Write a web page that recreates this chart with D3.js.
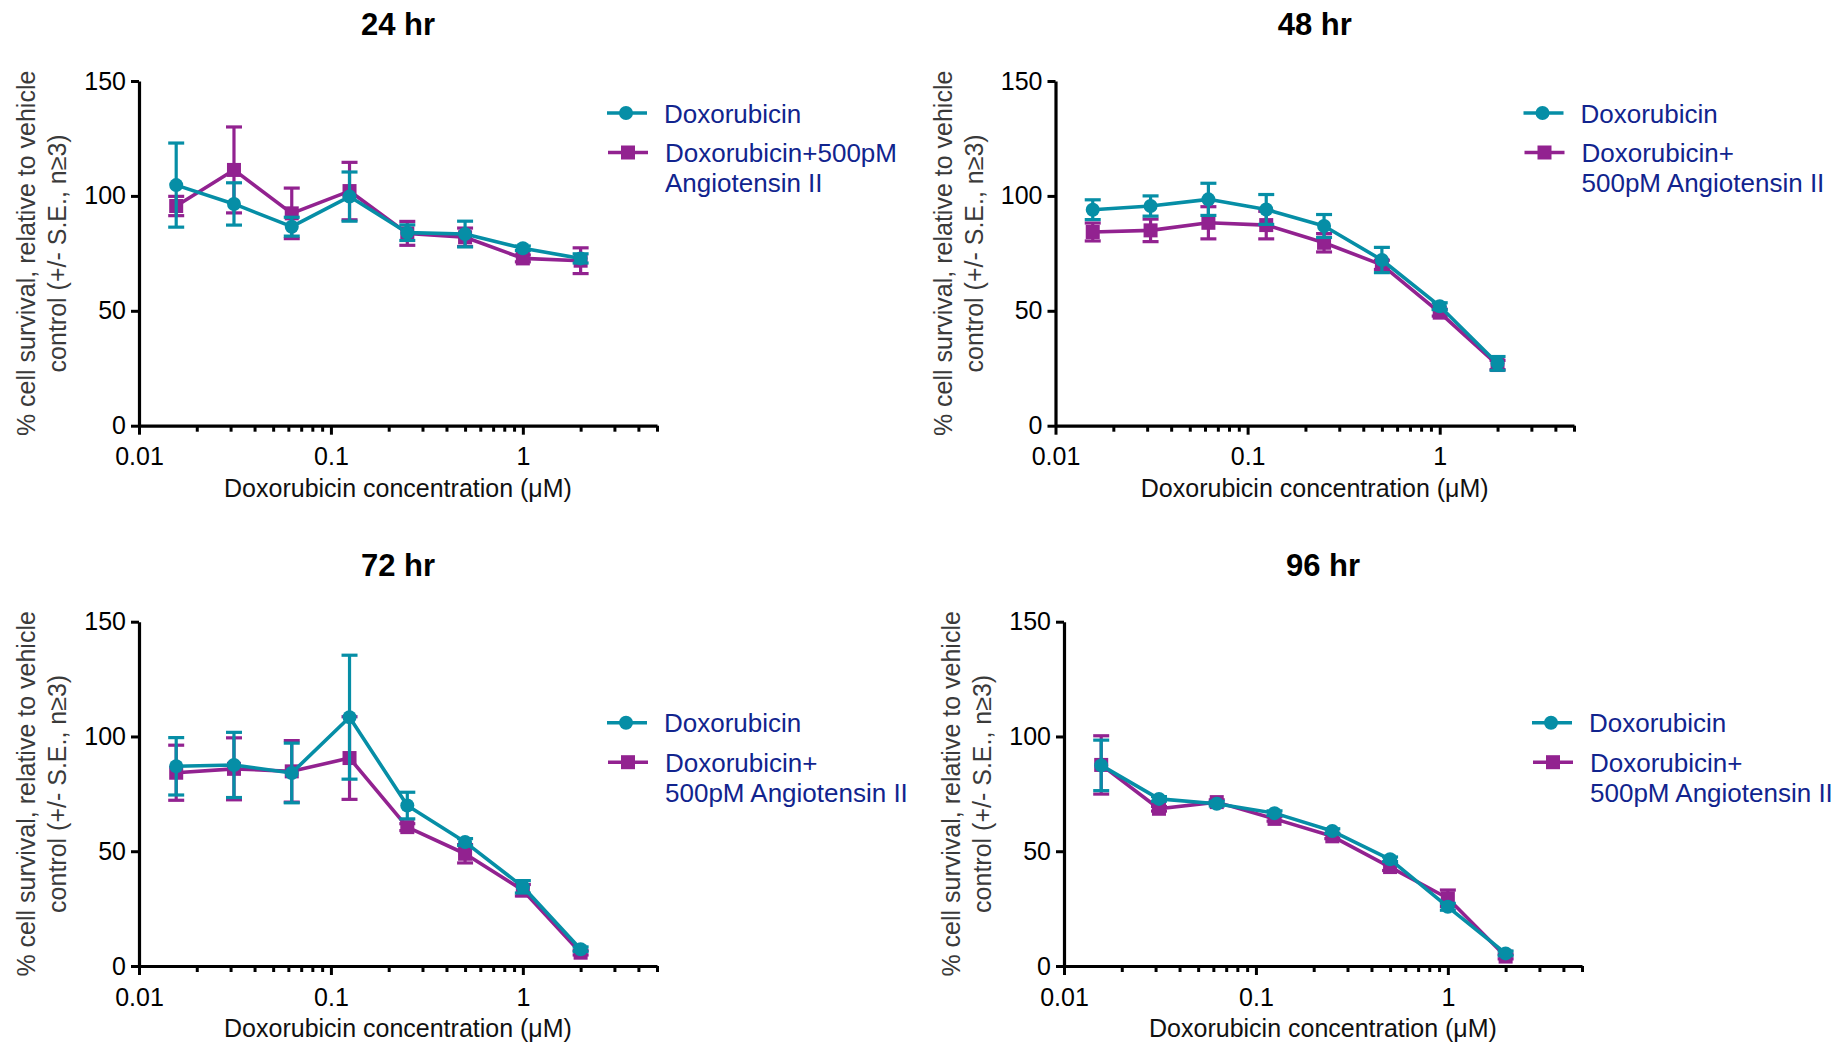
<!DOCTYPE html>
<html>
<head>
<meta charset="utf-8">
<script src="https://cdn.jsdelivr.net/npm/d3@7"></script>
<style>
  body { margin: 0; background: #fff; }
  svg { display: block; }
  text { font-family: "Liberation Sans", Arial, Helvetica, sans-serif; }
</style>
</head>
<body>
<svg id="chart" width="1834" height="1047"></svg>
<script>
// Doxorubicin doses (µM), two-fold dilution series
const doses = [0.015625, 0.03125, 0.0625, 0.125, 0.25, 0.5, 1, 2];
const timepoints = ["24 hr", "48 hr", "72 hr", "96 hr"];

// % cell survival relative to vehicle control (mean and S.E.), doxorubicin alone
const dox24   = [104.7, 96.5, 86.6, 99.7, 84.0, 83.4, 77.2, 72.8];
const dox24SE = [18.3, 9.2, 4.1, 10.7, 3.4, 5.6, 1.0, 2.0];
const dox48   = [94.0, 95.6, 98.5, 94.1, 86.9, 72.1, 52.0, 27.1];
const dox48SE = [4.3, 4.4, 7.0, 6.5, 5.0, 5.5, 1.5, 3.0];
const dox72   = [87.0, 87.6, 84.1, 108.4, 69.9, 54.0, 34.5, 7.3];
const dox72SE = [12.5, 14.2, 13.0, 27.0, 5.8, 1.5, 2.7, 1.0];
const dox96   = [87.4, 72.8, 70.7, 66.6, 58.8, 46.5, 25.8, 5.5];
const dox96SE = [11.0, 1.0, 1.0, 1.0, 1.0, 1.0, 1.5, 1.0];

// doxorubicin + 500 pM angiotensin II
const doxAng24   = [95.6, 111.3, 92.4, 102.1, 83.7, 82.0, 72.8, 71.8];
const doxAng24SE = [4.2, 18.7, 11.0, 12.5, 5.2, 4.0, 1.5, 5.6];
const doxAng48   = [84.3, 85.0, 88.3, 87.3, 79.6, 70.0, 49.2, 26.4];
const doxAng48SE = [3.9, 4.9, 7.0, 6.0, 4.0, 2.0, 1.5, 2.0];
const doxAng72   = [84.2, 85.9, 84.8, 90.6, 60.5, 48.9, 33.0, 5.8];
const doxAng72SE = [12.0, 13.5, 13.4, 18.0, 1.5, 4.0, 2.5, 1.0];
const doxAng96   = [87.6, 68.5, 71.4, 64.1, 56.5, 43.1, 29.5, 4.1];
const doxAng96SE = [12.7, 1.0, 1.0, 1.0, 1.0, 1.5, 3.6, 1.0];

// axis ticks and labels
const yTickValues = [0, 50, 100, 150];
const xTickValues = [0.01, 0.1, 1];
const xTickLabels = ["0.01", "0.1", "1"];
const xDomain = [0.01, 5];
const yDomain = [0, 150];
const xTitle = "Doxorubicin concentration (\u03bcM)";
const yTitleLines = ["% cell survival, relative to vehicle", "control (+/- S.E., n\u22653)"];

// legend text, wrapped as it appears in each panel
const legendDox = ["Doxorubicin"];
const legendDoxAngA = ["Doxorubicin+500pM", "Angiotensin II"];
const legendDoxAngB = ["Doxorubicin+", "500pM Angiotensin II"];

const TEAL = "#068ea6";
const PURPLE = "#922290";
const LEGEND_TEXT = "#11248e";

// panel frames: y-axis position, x-axis end, top (150) and bottom (0) of y range, legend row offset
const panels = [
  { title: timepoints[0], x0: 139,  x1: 657,  yTop: 81,    yBot: 425.7, legendDy: 32,
    dox: dox24, doxSE: dox24SE, ang: doxAng24, angSE: doxAng24SE, angLegend: legendDoxAngA },
  { title: timepoints[1], x0: 1055.5, x1: 1574, yTop: 81,  yBot: 425.7, legendDy: 32,
    dox: dox48, doxSE: dox48SE, ang: doxAng48, angSE: doxAng48SE, angLegend: legendDoxAngB },
  { title: timepoints[2], x0: 139,  x1: 657,  yTop: 621.7, yBot: 966,   legendDy: 101,
    dox: dox72, doxSE: dox72SE, ang: doxAng72, angSE: doxAng72SE, angLegend: legendDoxAngB },
  { title: timepoints[3], x0: 1064, x1: 1582, yTop: 621.7, yBot: 966,   legendDy: 101,
    dox: dox96, doxSE: dox96SE, ang: doxAng96, angSE: doxAng96SE, angLegend: legendDoxAngB }
];

const svg = d3.select("#chart");

function drawSeries(g, x, y, means, ses, color, marker) {
  const pts = doses.map((d, i) => ({ d, m: means[i], se: ses[i] }));
  // connecting line
  g.append("path")
    .datum(pts)
    .attr("fill", "none")
    .attr("stroke", color)
    .attr("stroke-width", 3.6)
    .attr("stroke-linejoin", "round")
    .attr("d", d3.line().x(p => x(p.d)).y(p => y(p.m)));
  // error bars (mean +/- S.E.)
  const eb = g.append("g").attr("stroke", color).attr("stroke-width", 3.2);
  pts.forEach(p => {
    const cx = x(p.d);
    eb.append("line").attr("x1", cx).attr("x2", cx).attr("y1", y(p.m + p.se)).attr("y2", y(p.m - p.se));
    [p.m + p.se, p.m - p.se].forEach(v => {
      eb.append("line").attr("x1", cx - 8).attr("x2", cx + 8).attr("y1", y(v)).attr("y2", y(v));
    });
  });
  // markers
  const mk = g.append("g").attr("fill", color);
  pts.forEach(p => {
    if (marker === "circle") {
      mk.append("circle").attr("cx", x(p.d)).attr("cy", y(p.m)).attr("r", 7);
    } else {
      mk.append("rect").attr("x", x(p.d) - 7).attr("y", y(p.m) - 7).attr("width", 14).attr("height", 14);
    }
  });
}

function legendEntry(g, lx, ly, color, marker, lines) {
  g.append("line").attr("x1", lx).attr("x2", lx + 40).attr("y1", ly).attr("y2", ly)
    .attr("stroke", color).attr("stroke-width", 3.6);
  if (marker === "circle") {
    g.append("circle").attr("cx", lx + 19).attr("cy", ly).attr("r", 7).attr("fill", color);
  } else {
    g.append("rect").attr("x", lx + 20 - 7).attr("y", ly - 7).attr("width", 14).attr("height", 14).attr("fill", color);
  }
  const t = g.append("text").attr("x", lx + 57).attr("y", ly + 9.5)
    .attr("font-size", 26).attr("fill", LEGEND_TEXT);
  lines.forEach((s, i) => {
    t.append("tspan").attr("x", lx + 57).attr("dy", i === 0 ? 0 : 30).text(s);
  });
}

panels.forEach(p => {
  const x = d3.scaleLog().domain(xDomain).range([p.x0, p.x1]);
  const y = d3.scaleLinear().domain(yDomain).range([p.yBot, p.yTop]);
  const g = svg.append("g");

  // panel title
  g.append("text")
    .attr("x", (p.x0 + p.x1) / 2).attr("y", p.yTop - 46)
    .attr("text-anchor", "middle").attr("font-size", 31).attr("font-weight", "bold")
    .attr("fill", "#000").text(p.title);

  // minor log ticks
  const minor = x.ticks().filter(v => !xTickValues.some(m => Math.abs(m - v) < 1e-9));
  const minorAxis = g.append("g").attr("transform", `translate(0,${p.yBot})`)
    .call(d3.axisBottom(x).tickValues(minor).tickSize(6).tickSizeOuter(0).tickFormat(""));
  minorAxis.select(".domain").remove();
  minorAxis.selectAll(".tick line").attr("stroke", "#000").attr("stroke-width", 3);

  // major x axis
  const xAxis = g.append("g").attr("transform", `translate(0,${p.yBot})`)
    .call(d3.axisBottom(x).tickValues(xTickValues).tickSize(9).tickSizeOuter(0).tickPadding(13)
      .tickFormat((d, i) => xTickLabels[i]));
  xAxis.select(".domain").attr("stroke", "#000").attr("stroke-width", 3.2);
  xAxis.selectAll(".tick line").attr("stroke", "#000").attr("stroke-width", 3);
  xAxis.selectAll(".tick text").attr("font-size", 25).attr("fill", "#000")
    .attr("font-family", "'Liberation Sans', Arial, sans-serif");

  // y axis
  const yAxis = g.append("g").attr("transform", `translate(${p.x0},0)`)
    .call(d3.axisLeft(y).tickValues(yTickValues).tickSize(8).tickSizeOuter(0).tickPadding(5));
  yAxis.select(".domain").attr("stroke", "#000").attr("stroke-width", 3.2);
  yAxis.selectAll(".tick line").attr("stroke", "#000").attr("stroke-width", 3);
  yAxis.selectAll(".tick text").attr("font-size", 25).attr("fill", "#000")
    .attr("font-family", "'Liberation Sans', Arial, sans-serif");

  // axis titles
  g.append("text")
    .attr("x", (p.x0 + p.x1) / 2).attr("y", p.yBot + 71)
    .attr("text-anchor", "middle").attr("font-size", 25).attr("fill", "#111")
    .text(xTitle);
  const yMid = (p.yTop + p.yBot) / 2;
  yTitleLines.forEach((s, i) => {
    const bx = p.x0 - 104 + i * 31;
    g.append("text")
      .attr("transform", `translate(${bx},${yMid}) rotate(-90)`)
      .attr("text-anchor", "middle").attr("font-size", 25).attr("fill", "#3a3a3a")
      .text(s);
  });

  // data: combination first, doxorubicin alone drawn on top
  drawSeries(g, x, y, p.ang, p.angSE, PURPLE, "square");
  drawSeries(g, x, y, p.dox, p.doxSE, TEAL, "circle");

  // legend
  const lx = p.x0 + 468;
  const ly = p.yTop + p.legendDy;
  legendEntry(g, lx, ly, TEAL, "circle", legendDox);
  legendEntry(g, lx + 1, ly + 39.5, PURPLE, "square", p.angLegend);
});
</script>
</body>
</html>
